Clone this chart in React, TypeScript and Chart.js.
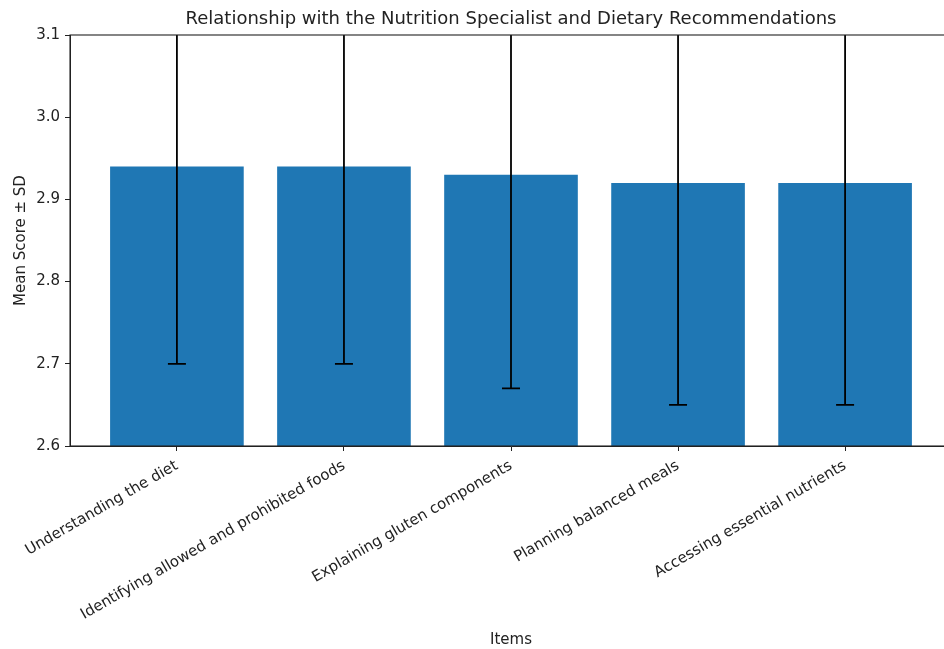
import React, { useEffect, useRef } from "react";
import { Chart, registerables } from "chart.js";

Chart.register(...registerables);

const items = [
  "Understanding the diet",
  "Identifying allowed and prohibited foods",
  "Explaining gluten components",
  "Planning balanced meals",
  "Accessing essential nutrients",
];
const meanScores = [2.94, 2.94, 2.93, 2.92, 2.92];
const sdValues = [0.24, 0.24, 0.26, 0.27, 0.27];
const yTicks = [2.6, 2.7, 2.8, 2.9, 3.0, 3.1];

const chartTitle = "Relationship with the Nutrition Specialist and Dietary Recommendations";
const FONT = "'DejaVu Sans', sans-serif";

// Error bars (mean ± SD), the title and the full axes frame
const overlayPlugin = {
  id: "overlay",
  afterDatasetsDraw(chart: any) {
    const { ctx, chartArea, scales } = chart;
    const xs = scales.x;
    const ys = scales.y;
    ctx.save();
    ctx.beginPath();
    ctx.rect(chartArea.left, chartArea.top, chartArea.right - chartArea.left, chartArea.bottom - chartArea.top);
    ctx.clip();
    ctx.strokeStyle = "#000";
    ctx.lineWidth = 1.8;
    const cap = 9;
    meanScores.forEach((m, i) => {
      const x = xs.getPixelForValue(i);
      const yLo = ys.getPixelForValue(m - sdValues[i]);
      const yHi = ys.getPixelForValue(m + sdValues[i]);
      ctx.beginPath();
      ctx.moveTo(x, yLo);
      ctx.lineTo(x, yHi);
      ctx.moveTo(x - cap, yLo);
      ctx.lineTo(x + cap, yLo);
      ctx.moveTo(x - cap, yHi);
      ctx.lineTo(x + cap, yHi);
      ctx.stroke();
    });
    ctx.restore();

    ctx.save();
    ctx.strokeStyle = "#222";
    ctx.lineWidth = 1.1;
    ctx.strokeRect(chartArea.left, chartArea.top, chartArea.right - chartArea.left, chartArea.bottom - chartArea.top);
    ctx.fillStyle = "#222";
    ctx.font = `18px ${FONT}`;
    ctx.textAlign = "center";
    ctx.textBaseline = "middle";
    ctx.fillText(chartTitle, (chartArea.left + chartArea.right) / 2, 19);
    ctx.restore();
  },
};

export default function App() {
  const canvasRef = useRef<HTMLCanvasElement | null>(null);

  useEffect(() => {
    if (!canvasRef.current) return;
    const chart = new Chart(canvasRef.current, {
      type: "bar",
      data: {
        datasets: [
          {
            data: meanScores.map((m, i) => ({ x: i, y: m })),
            backgroundColor: "#1f77b4",
            borderWidth: 0,
            barPercentage: 0.8,
            categoryPercentage: 1,
          },
        ],
      },
      options: {
        animation: false,
        responsive: false,
        devicePixelRatio: 1,
        layout: { padding: { top: 35, left: 0, right: 0, bottom: 0 } },
        plugins: {
          legend: { display: false },
          tooltip: { enabled: false },
          title: { display: false },
        },
        scales: {
          x: {
            type: "linear",
            min: -0.64,
            max: 4.64,
            offset: false,
            grid: { offset: false, drawOnChartArea: false, drawTicks: true, tickLength: 5, color: "#222" },
            border: { display: true, color: "#222", width: 1 },
            afterBuildTicks: (scale: any) => {
              scale.ticks = items.map((_, i) => ({ value: i }));
            },
            afterFit: (scale: any) => {
              scale.height = 203;
            },
            ticks: {
              autoSkip: false,
              minRotation: 30,
              maxRotation: 30,
              padding: 6,
              color: "#222",
              font: { family: FONT, size: 15 },
              callback: (v: any) => items[Math.round(Number(v))] ?? "",
            },
            title: {
              display: true,
              text: "Items",
              color: "#222",
              font: { family: FONT, size: 15 },
              padding: { top: 0, bottom: 0 },
            },
          },
          y: {
            type: "linear",
            min: 2.6,
            max: 3.1,
            grid: { drawOnChartArea: false, drawTicks: true, tickLength: 5, color: "#222" },
            border: { display: true, color: "#222", width: 1 },
            afterBuildTicks: (scale: any) => {
              scale.ticks = yTicks.map((v) => ({ value: v }));
            },
            afterFit: (scale: any) => {
              scale.width = 70;
            },
            ticks: {
              padding: 5,
              color: "#222",
              font: { family: FONT, size: 15 },
              callback: (v: any) => Number(v).toFixed(1),
            },
            title: {
              display: true,
              text: "Mean Score ± SD",
              color: "#222",
              font: { family: FONT, size: 15 },
              padding: { top: 12, bottom: 0 },
            },
          },
        },
      } as any,
      plugins: [overlayPlugin],
    });
    return () => chart.destroy();
  }, []);

  return (
    <div
      style={{
        position: "fixed",
        left: 0,
        top: 0,
        width: 944,
        height: 649,
        overflow: "hidden",
        background: "#fff",
      }}
    >
      <canvas ref={canvasRef} width={952} height={649} style={{ display: "block", width: 952, height: 649 }} />
    </div>
  );
}
